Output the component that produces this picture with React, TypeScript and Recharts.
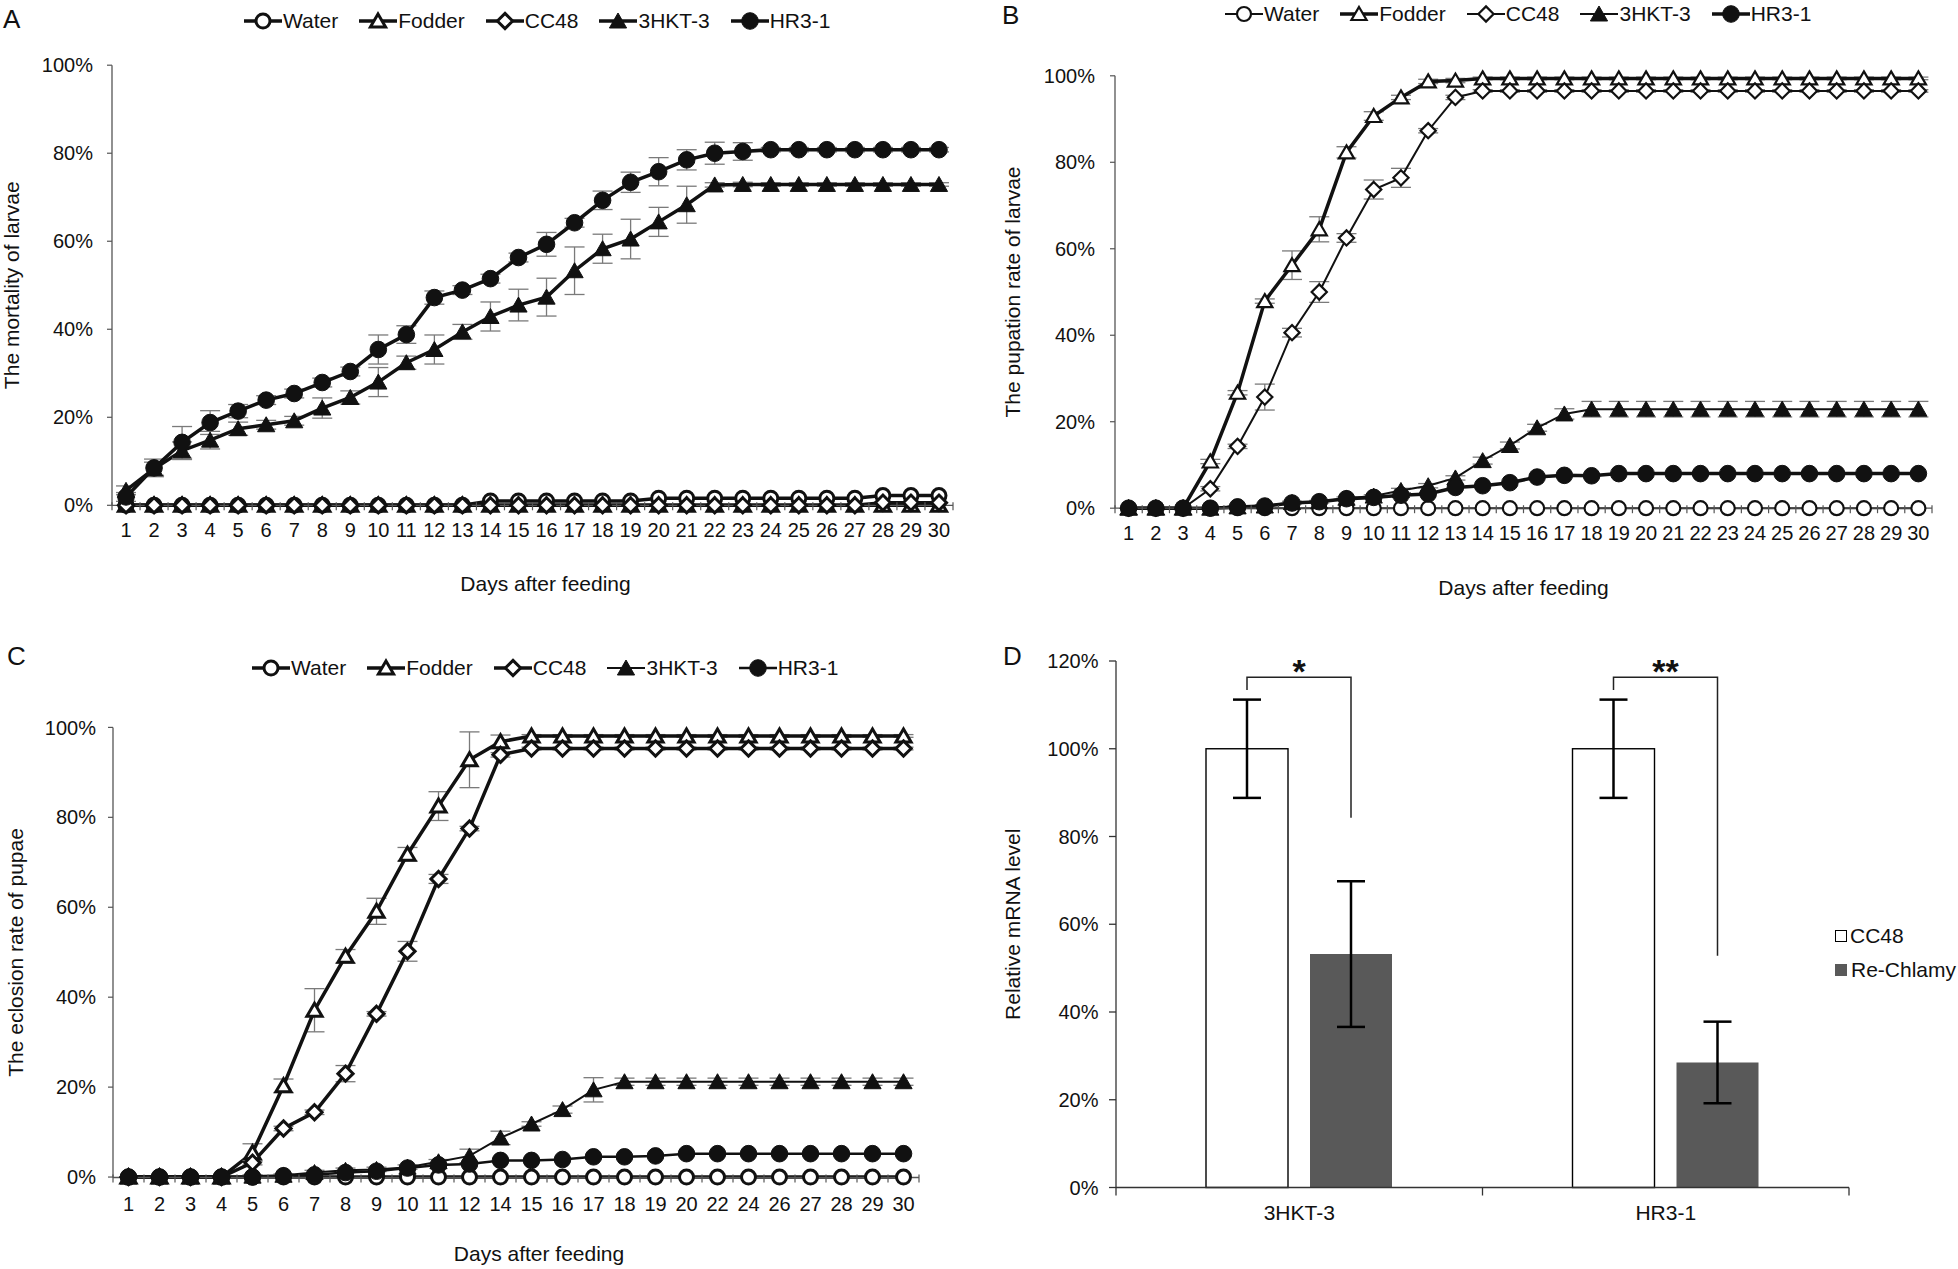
import React from 'react';
import { LineChart, Line, XAxis, YAxis, ErrorBar, Legend, BarChart, Bar } from 'recharts';

const FONT = "'Liberation Sans', Arial, Helvetica, sans-serif";
const INK = '#111111';
const AXIS = '#555555';
const ERR = '#7a7a7a';

// series shared by panels A-C
const seriesKeys = ['water', 'fodder', 'cc48', 'hkt', 'hr'];
const seriesNames = ['Water', 'Fodder', 'CC48', '3HKT-3', 'HR3-1'];
const seriesShapes = ['circle', 'triangle', 'diamond', 'triangle', 'circle'];
const seriesFilled = [false, false, false, true, true];

const pctTicks = [0, 20, 40, 60, 80, 100];
const barTicks = [0, 20, 40, 60, 80, 100, 120];

// ---- A: mortality of larvae
const daysAB = [1, 2, 3, 4, 5, 6, 7, 8, 9, 10, 11, 12, 13, 14, 15, 16, 17, 18, 19, 20, 21, 22, 23, 24, 25, 26, 27, 28, 29, 30];
const aWater = [0, 0, 0, 0, 0, 0, 0, 0, 0, 0, 0, 0, 0, 1.0, 1.0, 1.0, 1.0, 1.0, 1.0, 1.6, 1.6, 1.6, 1.6, 1.6, 1.6, 1.6, 1.6, 2.2, 2.2, 2.2];
const aFodder = [0, 0, 0, 0, 0, 0, 0, 0, 0, 0, 0, 0, 0, 0, 0, 0, 0, 0, 0, 0, 0, 0, 0, 0, 0, 0, 0, 0, 0, 0];
const aCC48 = [0, 0, 0, 0, 0, 0, 0, 0, 0, 0, 0, 0, 0, 0, 0, 0, 0, 0, 0, 0, 0, 0, 0, 0, 0, 0, 0, 0.6, 0.6, 0.6];
const aHkt = [3.4, 8.3, 12.4, 14.8, 17.4, 18.3, 19.2, 22.1, 24.5, 28.0, 32.4, 35.4, 39.4, 42.9, 45.5, 47.3, 53.3, 58.3, 60.5, 64.4, 68.3, 72.8, 72.9, 72.9, 72.9, 72.9, 72.9, 72.9, 72.9, 72.9];
const aHktErr = [1.0, 1.5, 2.0, 2.0, 1.5, 1.0, 1.0, 2.3, 1.5, 3.3, 1.5, 3.3, 1.7, 3.3, 3.6, 4.3, 5.4, 3.3, 4.5, 3.3, 4.2, 0.5, 0.5, 0.4, 0.4, 0.4, 0.4, 0.4, 0.4, 0.4];
const aHr = [1.9, 8.5, 14.3, 18.8, 21.4, 23.9, 25.4, 27.9, 30.4, 35.4, 38.8, 47.2, 48.9, 51.5, 56.3, 59.3, 64.2, 69.3, 73.4, 75.8, 78.5, 80.0, 80.4, 80.8, 80.8, 80.8, 80.8, 80.8, 80.8, 80.8];
const aHrErr = [1.0, 2.0, 3.6, 2.7, 1.5, 1.0, 1.0, 1.0, 1.0, 3.3, 2.0, 1.5, 1.0, 1.0, 1.0, 2.7, 1.0, 2.1, 2.3, 3.2, 2.3, 2.5, 2.0, 0.5, 0.5, 0.5, 0.5, 0.5, 0.5, 0.5];

// ---- B: pupation rate of larvae
const bWater = [0, 0, 0, 0, 0, 0, 0, 0, 0, 0, 0, 0, 0, 0, 0, 0, 0, 0, 0, 0, 0, 0, 0, 0, 0, 0, 0, 0, 0, 0];
const bFodder = [0, 0, 0, 10.8, 26.7, 47.9, 56.2, 64.5, 82.3, 90.7, 95.0, 98.7, 98.9, 99.4, 99.4, 99.4, 99.4, 99.4, 99.4, 99.4, 99.4, 99.4, 99.4, 99.4, 99.4, 99.4, 99.4, 99.4, 99.4, 99.4];
const bFodderErr = [0, 0, 0, 0.5, 0.5, 0.5, 3.3, 2.9, 1.3, 1.0, 0.5, 0.5, 0.5, 0.3, 0.3, 0.3, 0.3, 0.3, 0.3, 0.3, 0.3, 0.3, 0.3, 0.3, 0.3, 0.3, 0.3, 0.3, 0.3, 0.3];
const bCC48 = [0, 0, 0, 4.5, 14.3, 25.7, 40.6, 50.0, 62.5, 73.7, 76.4, 87.3, 95.0, 96.5, 96.5, 96.5, 96.5, 96.5, 96.5, 96.5, 96.5, 96.5, 96.5, 96.5, 96.5, 96.5, 96.5, 96.5, 96.5, 96.5];
const bCC48Err = [0, 0, 0, 0.5, 0.5, 3.0, 1.0, 2.4, 1.0, 2.2, 2.2, 0.5, 0.5, 0.3, 0.3, 0.3, 0.3, 0.3, 0.3, 0.3, 0.3, 0.3, 0.3, 0.3, 0.3, 0.3, 0.3, 0.3, 0.3, 0.3];
const bHkt = [0, 0, 0, 0, 0.3, 0.5, 1.3, 1.5, 2.3, 2.8, 4.1, 5.2, 7.0, 11.0, 14.5, 18.6, 21.8, 22.9, 22.9, 22.9, 22.9, 22.9, 22.9, 22.9, 22.9, 22.9, 22.9, 22.9, 22.9, 22.9];
const bHktErr = [0, 0, 0, 0, 0.3, 0.3, 0.3, 0.3, 0.3, 0.3, 0.5, 0.5, 0.5, 0.8, 0.8, 0.8, 1.2, 1.8, 1.8, 1.8, 1.8, 1.8, 1.8, 1.8, 1.8, 1.8, 1.8, 1.8, 1.8, 1.8];
const bHr = [0, 0, 0, 0, 0.3, 0.5, 1.2, 1.5, 2.2, 2.5, 3.0, 3.3, 4.8, 5.2, 5.9, 7.2, 7.6, 7.5, 8.0, 8.0, 8.0, 8.0, 8.0, 8.0, 8.0, 8.0, 8.0, 8.0, 8.0, 8.0];

// ---- C: eclosion rate of pupae (no 13, 21, 23, 25 in the source)
const daysC = [1, 2, 3, 4, 5, 6, 7, 8, 9, 10, 11, 12, 14, 15, 16, 17, 18, 19, 20, 22, 24, 26, 27, 28, 29, 30];
const cWater = [0, 0, 0, 0, 0, 0, 0, 0, 0, 0, 0, 0, 0, 0, 0, 0, 0, 0, 0, 0, 0, 0, 0, 0, 0, 0];
const cFodder = [0, 0, 0, 0, 5.4, 20.3, 37.1, 49.1, 59.1, 71.8, 82.5, 92.8, 96.8, 98.1, 98.1, 98.1, 98.1, 98.1, 98.1, 98.1, 98.1, 98.1, 98.1, 98.1, 98.1, 98.1];
const cFodderErr = [0, 0, 0, 0, 2.0, 1.5, 4.8, 1.5, 2.9, 1.5, 3.2, 6.2, 1.5, 0.3, 0.3, 0.3, 0.3, 0.3, 0.3, 0.3, 0.3, 0.3, 0.3, 0.3, 0.3, 0.3];
const cCC48 = [0, 0, 0, 0, 3.2, 10.8, 14.4, 23.0, 36.3, 50.2, 66.3, 77.5, 93.9, 95.3, 95.3, 95.3, 95.3, 95.3, 95.3, 95.3, 95.3, 95.3, 95.3, 95.3, 95.3, 95.3];
const cCC48Err = [0, 0, 0, 0, 0.5, 0.5, 0.5, 1.8, 0.5, 2.2, 1.0, 0.5, 0.5, 0.3, 0.3, 0.3, 0.3, 0.3, 0.3, 0.3, 0.3, 0.3, 0.3, 0.3, 0.3, 0.3];
const cHkt = [0, 0, 0, 0, 0.2, 0.4, 1.0, 1.5, 1.7, 2.2, 3.4, 4.7, 8.7, 11.8, 15.0, 19.4, 21.2, 21.2, 21.2, 21.2, 21.2, 21.2, 21.2, 21.2, 21.2, 21.2];
const cHktErr = [0, 0, 0, 0, 0.3, 0.3, 0.5, 0.5, 0.5, 0.5, 0.5, 1.5, 1.5, 0.5, 0.8, 2.7, 0.8, 0.8, 0.8, 0.8, 0.8, 0.8, 0.8, 0.8, 0.8, 0.8];
const cHr = [0, 0, 0, 0, 0, 0.3, 0.5, 1.0, 1.3, 2.0, 2.7, 2.9, 3.7, 3.7, 3.9, 4.5, 4.5, 4.7, 5.2, 5.2, 5.2, 5.2, 5.2, 5.2, 5.2, 5.2];

// ---- D: relative mRNA level
const dGenes = ['3HKT-3', 'HR3-1'];
const dCC48 = [100, 100];
const dCC48Err = [11.2, 11.2];
const dRe = [53.2, 28.5];
const dReErr = [16.6, 9.3];
const dBracketTop = [116.3, 116.3];
const dBracketLeft = [113.4, 113.4];
const dBracketRight = [84.3, 52.8];
const dStars = ['*', '**'];

const pct = (v: number) => `${v}%`;

function buildRows(days: number[], values: number[][], errors: (number[] | null)[]) {
  return days.map((d, i) => {
    const row: Record<string, number | string> = { day: String(d) };
    seriesKeys.forEach((k, s) => {
      row[k] = values[s][i];
      const e = errors[s];
      if (e) row[`${k}Err`] = e[i];
    });
    return row;
  });
}

const rowsA = buildRows(daysAB, [aWater, aFodder, aCC48, aHkt, aHr], [null, null, null, aHktErr, aHrErr]);
const rowsB = buildRows(daysAB, [bWater, bFodder, bCC48, bHkt, bHr], [null, bFodderErr, bCC48Err, bHktErr, null]);
const rowsC = buildRows(daysC, [cWater, cFodder, cCC48, cHkt, cHr], [null, cFodderErr, cCC48Err, cHktErr, null]);
const rowsD = dGenes.map((g, i) => ({ gene: g, cc48: dCC48[i], cc48Err: dCC48Err[i], re: dRe[i], reErr: dReErr[i] }));

interface MarkerProps {
  cx?: number;
  cy?: number;
  shape: string;
  filled: boolean;
  sw: number;
}

function Marker({ cx, cy, shape, filled, sw }: MarkerProps) {
  if (cx == null || cy == null || Number.isNaN(cx) || Number.isNaN(cy)) return null;
  const fill = filled ? INK : '#fff';
  const strokeWidth = filled ? 1 : sw;
  if (shape === 'circle') {
    return <circle cx={cx} cy={cy} r={filled ? 8.3 : 7} fill={fill} stroke={INK} strokeWidth={strokeWidth} />;
  }
  if (shape === 'triangle') {
    const w = filled ? 8.6 : 7.6;
    const pts = `${cx},${cy - (filled ? 8 : 7)} ${cx + w},${cy + (filled ? 7 : 6)} ${cx - w},${cy + (filled ? 7 : 6)}`;
    return <polygon points={pts} fill={fill} stroke={INK} strokeWidth={strokeWidth} strokeLinejoin="miter" />;
  }
  const r = 7.6;
  const pts = `${cx},${cy - r} ${cx + r},${cy} ${cx},${cy + r} ${cx - r},${cy}`;
  return <polygon points={pts} fill={fill} stroke={INK} strokeWidth={strokeWidth} />;
}

function LineLegend({ widths, openSW }: { widths: number[]; openSW: number }) {
  return (
    <div style={{ display: 'flex', alignItems: 'center', fontFamily: FONT, fontSize: 21, color: INK, whiteSpace: 'nowrap', lineHeight: '22px' }}>
      {seriesNames.map((name, i) => (
        <div key={name} style={{ display: 'flex', alignItems: 'center', marginRight: 21 }}>
          <svg width={38} height={22} style={{ display: 'block' }}>
            <line x1={0} x2={38} y1={11} y2={11} stroke={INK} strokeWidth={widths[i]} />
            <Marker cx={19} cy={11} shape={seriesShapes[i]} filled={seriesFilled[i]} sw={openSW} />
          </svg>
          <span style={{ marginLeft: 1 }}>{name}</span>
        </div>
      ))}
    </div>
  );
}

interface PanelCfg {
  left: number;
  top: number;
  width: number;
  height: number;
  marginTop: number;
  marginRight: number;
  marginBottom: number;
  yAxisWidth: number;
  xAxisHeight: number;
  yTickMargin: number;
  tickDy: number;
  titleDy: number;
  titleDx: number;
  yTitleX: number;
  yTitle: string;
  legendLeft: number;
  legendTop: number;
  lineWidths: number[];
  openSW: number;
}

function LinePanel({ rows, cfg, errs }: { rows: Record<string, number | string>[]; cfg: PanelCfg; errs: boolean[] }) {
  const plotW = cfg.width - cfg.yAxisWidth - cfg.marginRight;
  const half = plotW / rows.length / 2;
  const last = rows.length - 1;

  const dayTick = (p: any) => {
    const { x, y, payload, index } = p;
    return (
      <g>
        <line x1={x - half} x2={x - half} y1={y - 3} y2={y + 5} stroke={AXIS} strokeWidth={1.2} />
        {index === last && <line x1={x + half} x2={x + half} y1={y - 3} y2={y + 5} stroke={AXIS} strokeWidth={1.2} />}
        <text x={x} y={y + cfg.tickDy} textAnchor="middle" dominantBaseline="central" fontFamily={FONT} fontSize={20} fill={INK}>
          {payload.value}
        </text>
      </g>
    );
  };

  const xTitle = (p: any) => {
    const vb = p.viewBox || { x: cfg.yAxisWidth, y: cfg.height - cfg.marginBottom - cfg.xAxisHeight, width: plotW };
    return (
      <text x={vb.x + vb.width / 2 + cfg.titleDx} y={vb.y + cfg.titleDy} textAnchor="middle" dominantBaseline="central" fontFamily={FONT} fontSize={21} fill={INK}>
        Days after feeding
      </text>
    );
  };

  const yTitle = (p: any) => {
    const vb = p.viewBox || { y: cfg.marginTop, height: cfg.height - cfg.marginTop - cfg.marginBottom - cfg.xAxisHeight };
    const cy = vb.y + vb.height / 2;
    return (
      <text x={cfg.yTitleX} y={cy} transform={`rotate(-90, ${cfg.yTitleX}, ${cy})`} textAnchor="middle" dominantBaseline="central" fontFamily={FONT} fontSize={21} fill={INK}>
        {cfg.yTitle}
      </text>
    );
  };

  return (
    <div style={{ position: 'absolute', left: cfg.left, top: cfg.top }}>
      <LineChart
        width={cfg.width}
        height={cfg.height}
        data={rows}
        margin={{ top: cfg.marginTop, right: cfg.marginRight, bottom: cfg.marginBottom, left: 0 }}
      >
        <XAxis
          dataKey="day"
          scale="band"
          interval={0}
          height={cfg.xAxisHeight}
          tickLine={false}
          tickSize={0}
          tickMargin={0}
          tick={dayTick}
          axisLine={{ stroke: AXIS, strokeWidth: 1.3 }}
          label={xTitle}
        />
        <YAxis
          width={cfg.yAxisWidth}
          domain={[0, 100]}
          ticks={pctTicks}
          interval={0}
          tickFormatter={pct}
          tickSize={5}
          tickMargin={cfg.yTickMargin}
          tick={{ fill: INK, fontSize: 20, fontFamily: FONT }}
          tickLine={{ stroke: AXIS, strokeWidth: 1.2 }}
          axisLine={{ stroke: AXIS, strokeWidth: 1.3 }}
          label={yTitle}
        />
        <Legend
          verticalAlign="middle"
          align="center"
          layout="horizontal"
          wrapperStyle={{ left: cfg.legendLeft, top: cfg.legendTop, width: 700 }}
          content={() => <LineLegend widths={cfg.lineWidths} openSW={cfg.openSW} />}
        />
        {seriesKeys.map((k, s) => (
          <Line
            key={k}
            dataKey={k}
            type="linear"
            stroke={INK}
            strokeWidth={cfg.lineWidths[s]}
            isAnimationActive={false}
            activeDot={false}
            dot={(p: any) => (
              <Marker key={`${k}-${p.index}`} cx={p.cx} cy={p.cy} shape={seriesShapes[s]} filled={seriesFilled[s]} sw={cfg.openSW} />
            )}
          >
            {errs[s] && <ErrorBar dataKey={`${k}Err`} width={10} strokeWidth={1.3} stroke={ERR} direction="y" />}
          </Line>
        ))}
      </LineChart>
    </div>
  );
}

const cfgA: PanelCfg = {
  left: 0, top: 0, width: 980, height: 620,
  marginTop: 65.2, marginRight: 27, marginBottom: 14.7,
  yAxisWidth: 112, xAxisHeight: 100, yTickMargin: 14,
  tickDy: 25, titleDy: 78, titleDx: 13, yTitleX: 11,
  yTitle: 'The mortality of larvae',
  legendLeft: 244, legendTop: 10,
  lineWidths: [3.5, 3.5, 3.5, 3.5, 3.5], openSW: 3,
};

const cfgB: PanelCfg = {
  left: 980, top: 0, width: 978, height: 620,
  marginTop: 75.8, marginRight: 26, marginBottom: 11.8,
  yAxisWidth: 135, xAxisHeight: 100, yTickMargin: 15,
  tickDy: 25, titleDy: 79, titleDx: 0, yTitleX: 32,
  yTitle: 'The pupation rate of larvae',
  legendLeft: 245, legendTop: 2.5,
  lineWidths: [2, 3.5, 2, 2, 3.5], openSW: 2.2,
};

const cfgC: PanelCfg = {
  left: 0, top: 640, width: 980, height: 629,
  marginTop: 87.4, marginRight: 61, marginBottom: 6.5,
  yAxisWidth: 113, xAxisHeight: 85, yTickMargin: 12,
  tickDy: 26, titleDy: 76, titleDx: 23, yTitleX: 16,
  yTitle: 'The eclosion rate of  pupae',
  legendLeft: 252, legendTop: 17,
  lineWidths: [3.5, 3.5, 3.5, 2, 2.5], openSW: 3,
};

const D_BAR_GAP = 22;

function MrnaPanel() {
  const width = 978;
  const height = 629;
  const margin = { top: 21, right: 109, bottom: 21.5, left: 0 };
  const yAxisWidth = 136;
  const xAxisHeight = 60;
  const band = (width - yAxisWidth - margin.right) / rowsD.length / 2;

  const geneTick = (p: any) => {
    const { x, y, payload, index } = p;
    return (
      <g>
        <line x1={x - band} x2={x - band} y1={y} y2={y + 8} stroke="#333" strokeWidth={1.3} />
        {index === rowsD.length - 1 && <line x1={x + band} x2={x + band} y1={y} y2={y + 8} stroke="#333" strokeWidth={1.3} />}
        <text x={x} y={y + 25} textAnchor="middle" dominantBaseline="central" fontFamily={FONT} fontSize={21} fill={INK}>
          {payload.value}
        </text>
      </g>
    );
  };

  const yTitle = (p: any) => {
    const vb = p.viewBox || { y: margin.top, height: height - margin.top - margin.bottom - xAxisHeight };
    const cy = vb.y + vb.height / 2;
    return (
      <text x={32} y={cy} transform={`rotate(-90, 32, ${cy})`} textAnchor="middle" dominantBaseline="central" fontFamily={FONT} fontSize={21} fill={INK}>
        Relative mRNA level
      </text>
    );
  };

  // CC48 bar also carries the significance bracket to its Re-Chlamy neighbour
  const cc48Shape = (p: any) => {
    const { x, y, width: w, height: h, index } = p;
    const v = dCC48[index];
    const base = y + h;
    const k = h / v;
    const yOf = (val: number) => base - val * k;
    const lx = x + w / 2;
    const rx = x + w * 1.5 + D_BAR_GAP;
    const top = yOf(dBracketTop[index]);
    return (
      <g>
        <rect x={x} y={y} width={w} height={h} fill="#fff" stroke="#000" strokeWidth={1.4} />
        <path d={`M${lx},${yOf(dBracketLeft[index])} V${top} H${rx} V${yOf(dBracketRight[index])}`} fill="none" stroke="#222" strokeWidth={1.5} />
        <text x={(lx + rx) / 2} y={top + 6} textAnchor="middle" fontFamily={FONT} fontWeight="bold" fontSize={34} fill={INK}>
          {dStars[index]}
        </text>
      </g>
    );
  };

  const legend = () => (
    <div style={{ fontFamily: FONT, fontSize: 21, color: INK, lineHeight: '34px', whiteSpace: 'nowrap' }}>
      <div style={{ display: 'flex', alignItems: 'center' }}>
        <span style={{ display: 'inline-block', width: 10, height: 10, border: '1.3px solid #000', background: '#fff', marginRight: 3 }} />
        CC48
      </div>
      <div style={{ display: 'flex', alignItems: 'center' }}>
        <span style={{ display: 'inline-block', width: 12, height: 12, background: '#595959', marginRight: 4 }} />
        Re-Chlamy
      </div>
    </div>
  );

  return (
    <div style={{ position: 'absolute', left: 980, top: 640 }}>
      <BarChart width={width} height={height} data={rowsD} margin={margin} barCategoryGap={90} barGap={D_BAR_GAP}>
        <XAxis
          dataKey="gene"
          interval={0}
          height={xAxisHeight}
          tickLine={false}
          tickSize={0}
          tickMargin={0}
          tick={geneTick}
          axisLine={{ stroke: '#333', strokeWidth: 1.3 }}
        />
        <YAxis
          width={yAxisWidth}
          domain={[0, 120]}
          ticks={barTicks}
          interval={0}
          tickFormatter={pct}
          tickSize={7}
          tickMargin={10.5}
          tick={{ fill: INK, fontSize: 20, fontFamily: FONT }}
          tickLine={{ stroke: '#333', strokeWidth: 1.3 }}
          axisLine={{ stroke: '#333', strokeWidth: 1.3 }}
          label={yTitle}
        />
        <Legend verticalAlign="middle" align="center" layout="vertical" wrapperStyle={{ left: 855, top: 279, width: 122 }} content={legend} />
        <Bar dataKey="cc48" fill="#fff" stroke="#000" shape={cc48Shape} isAnimationActive={false}>
          <ErrorBar dataKey="cc48Err" width={14} strokeWidth={2.5} stroke="#000" direction="y" />
        </Bar>
        <Bar dataKey="re" fill="#595959" isAnimationActive={false}>
          <ErrorBar dataKey="reErr" width={14} strokeWidth={2.5} stroke="#000" direction="y" />
        </Bar>
      </BarChart>
    </div>
  );
}

const letterStyle: React.CSSProperties = { position: 'absolute', fontFamily: FONT, fontSize: 26, color: INK, lineHeight: 'normal' };

export default function App() {
  return (
    <div style={{ position: 'absolute', left: 0, top: 0, width: 1958, height: 1269, background: '#fff', overflow: 'hidden' }}>
      <LinePanel rows={rowsA} cfg={cfgA} errs={[false, false, false, true, true]} />
      <LinePanel rows={rowsB} cfg={cfgB} errs={[false, true, true, true, false]} />
      <LinePanel rows={rowsC} cfg={cfgC} errs={[false, true, true, true, false]} />
      <MrnaPanel />
      <div style={{ ...letterStyle, left: 3, top: 4 }}>A</div>
      <div style={{ ...letterStyle, left: 1002, top: 0 }}>B</div>
      <div style={{ ...letterStyle, left: 7, top: 641 }}>C</div>
      <div style={{ ...letterStyle, left: 1003, top: 641 }}>D</div>
    </div>
  );
}
